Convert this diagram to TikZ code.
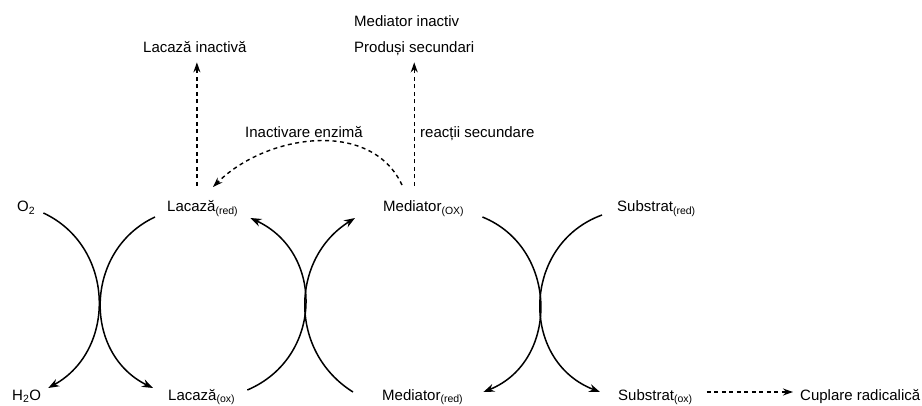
\documentclass[tikz,border=0pt]{standalone}
\usepackage{fontspec}
\setmainfont{Liberation Sans}
\usetikzlibrary{arrows.meta}

\begin{document}
\begin{tikzpicture}[x=1pt, y=1pt, font=\fontsize{15}{18}\selectfont,
        every node/.style={inner sep=2pt, anchor=base west},
        cyc/.style={line width=1.5pt, -{Stealth[length=11pt, width=8pt]}},
        dasharr/.style={line width=1.4pt, dash pattern=on 4pt off 3.5pt, -{Stealth[length=10pt, width=7pt]}}]
                \useasboundingbox (0,0) rectangle (922,405);

                \node (O2) at (15,193) {O\textsubscript{2}};
                \node (H2O) at (10,5) {H\textsubscript{2}O};
                \node (Lacaza red) at (165,193) {Lacază\textsubscript{(red)}};
                \node (Lacaza ox) at (166,5) {Lacază\textsubscript{(ox)}};
                \node (Mediator ox) at (381,193) {Mediator\textsubscript{(OX)}};
                \node (Mediator red) at (380,5) {Mediator\textsubscript{(red)}};
                \node (Substrat red) at (615,193) {Substrat\textsubscript{(red)}};
                \node (Substrat ox) at (616,5) {Substrat\textsubscript{(ox)}};
                \node (Cuplare) at (798,5) {Cuplare radicalică};
                \node (Lacaza inactiva) at (141,352) {Lacază inactivă};
                \node (Mediator inactiv) at (352,378) {Mediator inactiv};
                \node (Produsi secundari) at (352,352) {Produși secundari};
                \node (Inactivare enzima) at (243,267) {Inactivare enzimă};
                \node (Reactii secundare) at (418,267) {reacții secundare};

                \draw[cyc] ([shift={(6,-1)}]O2.base east) to[out=-25, in=29, looseness=1.15] ([shift={(5,12)}]H2O.base east);
                \draw[cyc] ([shift={(-10,-5)}]Lacaza red.base west) to[out=205, in=154, looseness=1.17] ([shift={(-13,12)}]Lacaza ox.base west);
                \draw[cyc] ([shift={(10,10)}]Lacaza ox.base east) to[out=23, in=-25, looseness=1.22] ([shift={(10,-6)}]Lacaza red.base east);
                \draw[cyc] ([shift={(-27,8)}]Mediator red.base west) to[out=148, in=212, looseness=1.12] ([shift={(-26,-6)}]Mediator ox.base west);
                \draw[cyc] ([shift={(16,-5)}]Mediator ox.base east) to[out=-22, in=22, looseness=1.2] ([shift={(18,8)}]Mediator red.base east);
                \draw[cyc] ([shift={(-13,-3)}]Substrat red.base west) to[out=200, in=159, looseness=1.24] ([shift={(-16,8)}]Substrat ox.base west);

                \draw[dasharr] ([shift={(12,8)}]Substrat ox.base east) -- ([shift={(-5,8)}]Cuplare.base west);
                \draw[dasharr, shorten <=13pt, shorten >=7pt] ([xshift=2pt]Lacaza inactiva.south |- Lacaza red.north) -- ([xshift=2pt]Lacaza inactiva.south);
                \draw[dasharr, shorten <=13pt, shorten >=4pt] (Produsi secundari.south |- Mediator ox.north) -- (Produsi secundari.south);
                \draw[dasharr] ([shift={(21,27)}]Mediator ox.base west) to[out=115, in=45] ([shift={(48,25)}]Lacaza red.base west);

            \end{tikzpicture}
\end{document}
